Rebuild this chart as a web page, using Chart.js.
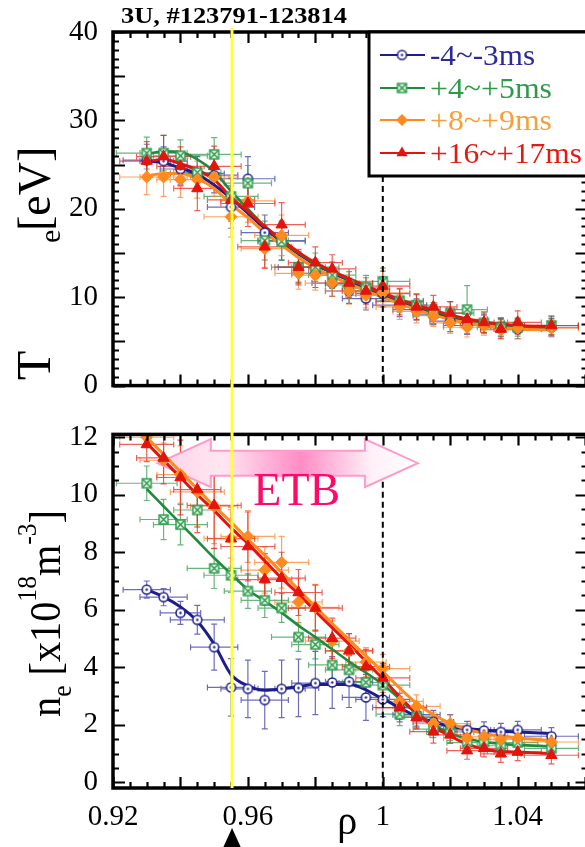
<!DOCTYPE html>
<html><head><meta charset="utf-8">
<script src="https://cdn.jsdelivr.net/npm/chart.js@4.4.1/dist/chart.umd.min.js"></script>
<style>
html,body{margin:0;padding:0;background:#fff;}
#wrap{position:relative;width:585px;height:847px;overflow:hidden;background:#fff;}
#wrap canvas{position:absolute;left:0;display:block;}
</style></head><body>
<div id="wrap">
<canvas id="cT" width="595" height="410" style="top:0px;width:595px;height:410px"></canvas>
<canvas id="cN" width="595" height="437" style="top:410px;width:595px;height:437px"></canvas>
</div>
<script>
// ---------------- data ----------------
const seriesLabels = ['-4~-3ms', '+4~+5ms', '+8~+9ms', '+16~+17ms'];
const rho = [0.93,0.935,0.94,0.945,0.95,0.955,0.96,0.965,0.97,0.975,0.98,0.985,0.99,0.995,1.0,1.005,1.01,1.015,1.02,1.025,1.03,1.035,1.04,1.05];

const teBlue   = [25.5,25.4,24.5,24.0,23.8,20.2,23.4,17.3,16.4,13.4,12.7,11.6,10.7,9.85,10.4,9.1,8.6,8.0,7.3,6.8,7.0,6.6,6.4,6.6];
const teGreen  = [26.3,26.3,26.0,24.1,26.15,21.4,22.9,16.4,16.3,13.4,13.4,12.5,11.4,11.07,11.8,9.6,9.1,8.2,8.2,8.6,7.1,6.6,6.6,6.8];
const teOrange = [23.6,23.6,23.3,23.3,23.6,19.1,20.9,15.5,17.0,12.7,12.5,11.6,10.7,10.2,10.5,8.9,8.4,7.9,7.1,6.6,6.8,6.3,6.5,6.5];
const teRed    = [25.4,25.9,24.8,22.3,24.8,21.0,20.6,15.7,18.2,13.4,13.9,13.2,11.6,10.7,11.25,9.5,8.9,8.9,8.2,7.5,7.15,6.4,7.15,6.8];

const neBlue   = [6.7,6.44,5.89,5.65,4.7,3.3,3.25,2.86,3.25,3.28,3.45,3.47,3.5,2.95,2.88,2.6,2.35,2.1,1.95,1.82,1.8,1.75,1.82,1.6];
const neGreen  = [10.4,9.14,8.96,9.47,7.44,7.2,6.65,6.33,6.06,5.05,4.79,4.08,3.91,3.47,3.38,2.37,2.3,1.85,1.75,1.38,1.4,1.27,1.38,1.18];
const neOrange = [12.0,11.2,10.7,10.1,9.6,8.48,8.55,7.38,7.65,6.27,6.08,4.91,4.57,4.18,3.95,2.81,2.64,2.04,2.04,1.54,1.6,1.49,1.54,1.4];
const neRed    = [11.75,11.28,10.6,10.18,9.63,8.47,8.2,7.05,7.1,6.6,6.06,5.01,4.57,4.02,3.63,2.59,2.26,1.76,1.65,1.1,1.18,0.99,1.05,0.94];

const rhoErrBlue   = [0.007,0.007,0.006,0.008,0.007,0.007,0.008,0.007,0.007,0.006,0.007,0.006,0.007,0.007,0.008,0.008,0.007,0.006,0.006,0.007,0.006,0.006,0.007,0.008];
const rhoErrGreen  = [0.009,0.007,0.008,0.007,0.008,0.008,0.007,0.007,0.007,0.008,0.007,0.007,0.007,0.007,0.008,0.007,0.006,0.006,0.007,0.006,0.006,0.007,0.006,0.008];
const rhoErrOrange = [0.008,0.007,0.007,0.008,0.007,0.008,0.008,0.007,0.008,0.007,0.007,0.008,0.007,0.006,0.008,0.007,0.007,0.006,0.006,0.007,0.007,0.006,0.007,0.008];
const rhoErrRed    = [0.008,0.008,0.007,0.007,0.008,0.007,0.008,0.008,0.007,0.007,0.008,0.007,0.007,0.007,0.008,0.007,0.006,0.007,0.006,0.006,0.007,0.006,0.007,0.008];

const teErrBlue   = [1.8,1.6,1.8,1.9,2.0,2.4,2.5,2.0,2.2,1.8,1.6,1.5,1.4,1.3,1.5,1.3,1.2,1.1,1.2,1.0,1.0,1.0,1.1,1.0];
const teErrGreen  = [1.8,2.0,1.8,2.0,1.9,2.2,2.0,2.2,2.1,1.7,1.6,1.5,1.5,1.4,1.5,1.3,1.3,1.2,1.3,2.7,1.1,1.1,1.0,1.0];
const teErrOrange = [2.0,2.2,2.0,2.1,2.2,2.3,2.4,2.2,2.3,1.8,1.7,1.5,1.5,1.4,1.6,1.4,1.3,1.2,1.2,1.1,1.1,1.0,1.2,1.0];
const teErrRed    = [2.2,2.4,2.2,2.5,2.3,2.4,2.6,2.4,2.5,2.0,1.8,1.6,1.6,1.5,1.7,1.5,1.4,1.3,1.3,1.2,1.2,1.1,1.3,1.1];

const neErrBlue   = [0.3,0.3,0.4,0.5,0.8,1.0,1.0,1.0,1.0,1.0,1.1,0.9,0.9,0.8,0.6,0.5,0.4,0.4,0.4,0.3,0.3,0.3,0.3,0.3];
const neErrGreen  = [0.6,0.7,0.7,0.6,0.7,0.6,0.6,0.6,0.5,0.5,0.5,0.5,0.5,0.4,0.4,0.4,0.4,0.3,0.3,0.3,0.3,0.3,0.3,0.3];
const neErrOrange = [0.3,0.6,1.0,1.2,1.3,1.0,0.9,0.8,0.9,0.8,0.8,0.7,0.6,0.5,0.5,0.5,0.4,0.4,0.3,0.3,0.3,0.3,0.3,0.3];
const neErrRed    = [0.6,0.9,1.3,1.5,1.5,1.1,1.2,0.9,0.9,0.8,0.8,0.7,0.6,0.6,0.5,0.4,0.4,0.4,0.3,0.3,0.3,0.3,0.3,0.3];

const fitRho = [0.93,0.935,0.94,0.945,0.95,0.955,0.96,0.965,0.97,0.975,0.98,0.99,1.0,1.01,1.02,1.03,1.04,1.05];
const teFitBlue   = [25.4,25.2,24.6,23.9,22.7,21.2,19.5,17.8,16.3,14.9,13.7,11.9,10.2,8.8,7.7,7.0,6.6,6.5];
const teFitGreen  = [26.2,26.5,26.4,25.6,24.2,22.0,20.0,18.0,16.4,15.0,13.8,12.0,10.4,9.0,7.9,7.1,6.7,6.6];
const teFitOrange = [23.7,24.0,24.0,23.4,22.3,20.5,19.0,17.3,15.9,14.5,13.3,11.5,10.0,8.6,7.5,6.8,6.4,6.3];
const teFitRed    = [25.3,25.6,25.1,24.4,23.3,21.3,19.7,18.0,16.5,15.1,13.9,12.1,10.5,9.1,8.0,7.2,6.8,6.7];
const neFitBlue   = [6.7,6.45,6.1,5.6,4.8,3.75,3.35,3.2,3.25,3.33,3.4,3.4,2.9,2.3,1.95,1.82,1.75,1.7];
const neFitGreen  = [10.2,9.6,9.0,8.4,7.8,7.25,6.7,6.3,5.9,5.45,5.05,4.2,3.4,2.4,1.7,1.4,1.3,1.25];
const neFitOrange = [12.0,11.4,10.8,10.2,9.6,9.05,8.45,7.9,7.3,6.7,6.1,4.95,3.85,2.75,2.05,1.7,1.55,1.45];
const neFitRed    = [11.8,11.2,10.6,10.0,9.45,8.85,8.3,7.7,7.1,6.55,5.95,4.8,3.6,2.4,1.6,1.15,1.05,1.0];

const xTickLabels  = [0.92, 0.96, 1, 1.04];
const teTickLabels = [0, 10, 20, 30, 40];
const neTickLabels = [0, 2, 4, 6, 8, 10, 12];

const titleText = '3U, #123791-123814';
const markRho = 0.9553;       // yellow line / triangle
const sepRho = 1.0;           // dashed separatrix
const etbRho = [0.9333, 1.0104];
const etbNe = 11.1;
const etbText = 'ETB';
const etbTextPos = [0.9745, 9.65];

// ---------------- style ----------------
const SERIF = "'Liberation Serif','Times New Roman',serif";
const styles = [
  {color:'#1d1d8c', text:'#2a2a9c', err:'rgba(45,45,160,0.7)'},
  {color:'#1f8b3b', text:'#2f9a4a', err:'rgba(40,150,70,0.7)'},
  {color:'#ff8a1e', text:'#f7a03a', err:'rgba(250,125,35,0.7)'},
  {color:'#e3140c', text:'#e01b12', err:'rgba(228,30,20,0.7)'}
];

function circDot(color){
  const c=document.createElement('canvas'); c.width=c.height=13; const g=c.getContext('2d');
  g.fillStyle='#fff'; g.strokeStyle=color; g.lineWidth=1.5;
  g.beginPath(); g.arc(6.5,6.5,4.5,0,Math.PI*2); g.fill(); g.stroke();
  g.fillStyle=color; g.beginPath(); g.arc(6.5,6.5,1.2,0,Math.PI*2); g.fill(); return c;
}
function boxX(color){
  const c=document.createElement('canvas'); c.width=c.height=13; const g=c.getContext('2d');
  g.fillStyle='#e6f4e8'; g.fillRect(2,2,9,9);
  g.strokeStyle=color; g.lineWidth=1.4; g.strokeRect(2,2,9,9);
  g.beginPath(); g.moveTo(2.5,2.5); g.lineTo(10.5,10.5); g.moveTo(10.5,2.5); g.lineTo(2.5,10.5); g.stroke(); return c;
}
const markerImgs = [circDot(styles[0].color), boxX('#2a9a4a'), null, null];
const markerStyle = [markerImgs[0], markerImgs[1], 'rectRot', 'triangle'];
const markerRadius = [5, 5, 6, 6.5];

function buildDatasets(ys, errs, fits){
  const pts = [], lines = [];
  for (let i=0;i<4;i++){
    pts.push({
      label: seriesLabels[i],
      data: rho.map((x,j)=>({x:x, y:ys[i][j]})),
      showLine:false, errX: [rhoErrBlue,rhoErrGreen,rhoErrOrange,rhoErrRed][i], errY: errs[i], errColor: styles[i].err,
      pointStyle: markerStyle[i], pointRadius: markerRadius[i],
      backgroundColor: styles[i].color, borderColor: styles[i].color, borderWidth: 1, sIndex:i
    });
    lines.push({
      label: seriesLabels[i]+' fit',
      data: fitRho.map((x,j)=>({x:x, y:fits[i][j]})),
      showLine:true, pointRadius:0, borderColor: styles[i].color, borderWidth: i===1?2.6:3,
      cubicInterpolationMode:'monotone', fill:false
    });
  }
  return [pts[3],pts[2],pts[1],pts[0],lines[3],lines[2],lines[1],lines[0]];
}

const errorBars = {
  id:'errorBars',
  beforeDatasetsDraw(chart){
    const {ctx, chartArea:a, scales:{x,y}} = chart;
    ctx.save(); ctx.beginPath(); ctx.rect(a.left,a.top,a.right-a.left,a.bottom-a.top); ctx.clip();
    const sets = chart.data.datasets.filter(d=>d.errX).sort((p,q)=>p.sIndex-q.sIndex);
    sets.forEach(ds=>{
      ctx.strokeStyle = ds.errColor; ctx.lineWidth = 1.2; ctx.beginPath();
      ds.data.forEach((p,j)=>{
        const px=x.getPixelForValue(p.x), py=y.getPixelForValue(p.y);
        const x1=x.getPixelForValue(p.x-ds.errX[j]), x2=x.getPixelForValue(p.x+ds.errX[j]);
        const y1=y.getPixelForValue(p.y-ds.errY[j]), y2=y.getPixelForValue(p.y+ds.errY[j]);
        ctx.moveTo(x1,py); ctx.lineTo(x2,py);
        ctx.moveTo(x1,py-3); ctx.lineTo(x1,py+3); ctx.moveTo(x2,py-3); ctx.lineTo(x2,py+3);
        ctx.moveTo(px,y1); ctx.lineTo(px,y2);
        ctx.moveTo(px-3,y1); ctx.lineTo(px+3,y1); ctx.moveTo(px-3,y2); ctx.lineTo(px+3,y2);
      });
      ctx.stroke();
    });
    ctx.restore();
  }
};

function frameTicks(chart, yMin, yMax, yMinor, yMajorEvery){
  const {ctx, chartArea:a, scales:{x,y}} = chart;
  ctx.save(); ctx.strokeStyle='#000'; ctx.lineWidth=2.2; ctx.beginPath();
  for (let k=0;;k++){
    const v = 0.92 + k*0.005; if (v > x.max+1e-9) break;
    const px = Math.round(x.getPixelForValue(v))+0.5; const L = (k%4===0)?11:6;
    ctx.moveTo(px,a.bottom); ctx.lineTo(px,a.bottom-L); ctx.moveTo(px,a.top); ctx.lineTo(px,a.top+L);
  }
  for (let k=0;;k++){
    const v = yMin + k*yMinor; if (v > yMax+1e-9) break;
    const py = Math.round(y.getPixelForValue(v))+0.5; const L = (k%yMajorEvery===0)?12:6;
    ctx.moveTo(a.left,py); ctx.lineTo(a.left+L,py); ctx.moveTo(a.right,py); ctx.lineTo(a.right-L,py);
  }
  ctx.stroke();
  ctx.lineWidth=3.5; ctx.strokeRect(a.left,a.top,a.right-a.left,a.bottom-a.top);
  ctx.restore();
}
function rotText(ctx, text, font, bx, by, sx, color){
  ctx.save(); ctx.translate(bx,by); ctx.rotate(-Math.PI/2); ctx.scale(sx||1,1);
  ctx.font=font; ctx.fillStyle=color||'#000'; ctx.textAlign='left'; ctx.textBaseline='alphabetic';
  ctx.fillText(text,0,0); ctx.restore();
}
function rotTokens(ctx, tokens, bx, yStart, yEnd){
  let total=0; tokens.forEach(t=>{ctx.font=t.font; t.w=ctx.measureText(t.text).width; total+=t.w;});
  const s=(yStart-yEnd)/total;
  ctx.save(); ctx.translate(bx,yStart); ctx.rotate(-Math.PI/2); ctx.scale(s,1);
  ctx.fillStyle='#000'; ctx.textAlign='left'; ctx.textBaseline='alphabetic';
  let u=0; tokens.forEach(t=>{ctx.font=t.font; ctx.fillText(t.text,u,t.dy||0); u+=t.w;});
  ctx.restore();
}
function fitText(ctx, text, font, x, y, width, color){
  ctx.save(); ctx.font=font; ctx.fillStyle=color||'#000'; ctx.textAlign='left'; ctx.textBaseline='alphabetic';
  const w=ctx.measureText(text).width; ctx.translate(x,y); ctx.scale(width/w,1); ctx.fillText(text,0,0); ctx.restore();
}
function vline(ctx, px, y0, y1, color, w, dash){
  ctx.save(); ctx.strokeStyle=color; ctx.lineWidth=w; if(dash) ctx.setLineDash(dash);
  ctx.beginPath(); ctx.moveTo(px,y0); ctx.lineTo(px,y1); ctx.stroke(); ctx.restore();
}
function drawMarker(ctx, i, x, y){
  ctx.save();
  if (markerImgs[i]){ const im=markerImgs[i]; ctx.drawImage(im, x-im.width/2, y-im.height/2); }
  else {
    ctx.fillStyle=styles[i].color; ctx.beginPath(); const r=markerRadius[i];
    if (markerStyle[i]==='rectRot'){ ctx.moveTo(x-r,y); ctx.lineTo(x,y-r); ctx.lineTo(x+r,y); ctx.lineTo(x,y+r); }
    else { ctx.moveTo(x,y-r); ctx.lineTo(x+r*0.866,y+r*0.5); ctx.lineTo(x-r*0.866,y+r*0.5); }
    ctx.closePath(); ctx.fill();
  }
  ctx.restore();
}

function scaleOpts(yMin, yMax, yTicks, showX, xH){
  return {
    x:{type:'linear', min:0.92, max:1.0607,
       afterBuildTicks:s=>{s.ticks=xTickLabels.map(v=>({value:v}));},
       ticks:{display:showX, font:{family:SERIF,size:29}, color:'#000', padding:4, maxRotation:0,
              callback:v=>String(+(+v).toFixed(2))},
       grid:{display:false}, border:{display:false},
       afterFit:s=>{s.height=xH;}},
    y:{type:'linear', min:yMin, max:yMax,
       afterBuildTicks:s=>{s.ticks=yTicks.map(v=>({value:v}));},
       ticks:{font:{family:SERIF,size:29}, color:'#000', padding:7, callback:v=>String(v)},
       grid:{display:false}, border:{display:false},
       afterFit:s=>{s.width=113;}}
  };
}

// ---------------- top chart (Te) ----------------
const topDecor = {
  id:'topDecor',
  afterDraw(chart){
    const {ctx, chartArea:a, scales:{x}} = chart;
    frameTicks(chart, 0, 40, 1, 5);
    vline(ctx, x.getPixelForValue(sepRho), 176, a.bottom, '#000', 2, [6,4]);
    // legend box
    ctx.save();
    ctx.fillStyle='#fff'; ctx.fillRect(369,32,240,144);
    ctx.strokeStyle='#000'; ctx.lineWidth=3; ctx.strokeRect(369,32,240,144);
    const ys=[55,88,120,153];
    const widths=[105,122,122,152];
    for (let i=0;i<4;i++){
      ctx.strokeStyle=styles[i].color; ctx.lineWidth=2.2; ctx.beginPath(); ctx.moveTo(380,ys[i]); ctx.lineTo(425,ys[i]); ctx.stroke();
      drawMarker(ctx,i,402,ys[i]);
      fitText(ctx, seriesLabels[i], '29px '+SERIF, 430, ys[i]+10, widths[i], styles[i].text);
    }
    ctx.restore();
    // title
    fitText(ctx, titleText, 'bold 23px '+SERIF, 121, 23, 226, '#000');
    // y title
    rotText(ctx,'T','48px '+SERIF,50,380);
    rotText(ctx,'e','30px '+SERIF,60,243);
    rotText(ctx,'[eV]','46px '+SERIF,50,231);
    vline(ctx, x.getPixelForValue(markRho), 28, chart.height, '#ffff40', 3);
  }
};
new Chart(document.getElementById('cT'), {
  type:'line',
  data:{datasets: buildDatasets([teBlue,teGreen,teOrange,teRed],[teErrBlue,teErrGreen,teErrOrange,teErrRed],[teFitBlue,teFitGreen,teFitOrange,teFitRed])},
  options:{responsive:false, animation:false, devicePixelRatio:1,
    layout:{padding:{top:32,right:7,left:0,bottom:0}},
    plugins:{legend:{display:false}, tooltip:{enabled:false}},
    scales: scaleOpts(0,40,teTickLabels,false,5)},
  plugins:[errorBars, topDecor]
});

// ---------------- bottom chart (ne) ----------------
const arrowPlugin = {
  id:'etbArrow',
  beforeDatasetsDraw(chart){
    const {ctx, scales:{x,y}} = chart;
    const xl=x.getPixelForValue(etbRho[0]), xr=x.getPixelForValue(etbRho[1]), yc=y.getPixelForValue(etbNe);
    const hl=53, hh=24, sh=12.5;
    ctx.save();
    const g=ctx.createLinearGradient(xl,0,xr,0);
    g.addColorStop(0,'#ffd2e8'); g.addColorStop(0.25,'#ffe6f2'); g.addColorStop(0.55,'#ff8cc6'); g.addColorStop(0.82,'#fff0f7'); g.addColorStop(1,'#ffffff');
    ctx.fillStyle=g; ctx.strokeStyle='#ff9acb'; ctx.lineWidth=2;
    ctx.beginPath();
    ctx.moveTo(xl,yc); ctx.lineTo(xl+hl,yc-hh); ctx.lineTo(xl+hl,yc-sh); ctx.lineTo(xr-hl,yc-sh); ctx.lineTo(xr-hl,yc-hh);
    ctx.lineTo(xr,yc); ctx.lineTo(xr-hl,yc+hh); ctx.lineTo(xr-hl,yc+sh); ctx.lineTo(xl+hl,yc+sh); ctx.lineTo(xl+hl,yc+hh);
    ctx.closePath(); ctx.fill(); ctx.stroke();
    ctx.restore();
  }
};
const botDecor = {
  id:'botDecor',
  afterDraw(chart){
    const {ctx, chartArea:a, scales:{x,y}} = chart;
    frameTicks(chart, 0, 12.1, 0.5, 4);
    vline(ctx, x.getPixelForValue(sepRho), y.getPixelForValue(10.45), a.bottom, '#000', 2, [6,4]);
    ctx.save(); ctx.fillStyle='#ff0a6a'; ctx.font='46px '+SERIF; ctx.textAlign='center'; ctx.textBaseline='alphabetic';
    ctx.fillText(etbText, x.getPixelForValue(etbTextPos[0]), y.getPixelForValue(etbTextPos[1])); ctx.restore();
    rotTokens(ctx,[
      {text:'n',font:'44px '+SERIF},
      {text:'e',font:'28px '+SERIF,dy:11},
      {text:' [x10',font:'44px '+SERIF},
      {text:'18',font:'28px '+SERIF,dy:-24},
      {text:'m',font:'44px '+SERIF},
      {text:'-3',font:'28px '+SERIF,dy:-24},
      {text:']',font:'44px '+SERIF}
    ], 60, 717-410, 510-410);
    ctx.save(); ctx.fillStyle='#000'; ctx.font='40px '+SERIF; ctx.textAlign='center'; ctx.textBaseline='alphabetic';
    ctx.fillText('\u03C1', (a.left+a.right)/2-3, 424); ctx.restore();
    const mx=x.getPixelForValue(markRho);
    ctx.save(); ctx.fillStyle='#000'; ctx.beginPath(); ctx.moveTo(mx,418); ctx.lineTo(mx-10,440); ctx.lineTo(mx+10,440); ctx.closePath(); ctx.fill(); ctx.restore();
    vline(ctx, mx, 0, a.bottom, '#ffff40', 3);
  }
};
new Chart(document.getElementById('cN'), {
  type:'line',
  data:{datasets: buildDatasets([neBlue,neGreen,neOrange,neRed],[neErrBlue,neErrGreen,neErrOrange,neErrRed],[neFitBlue,neFitGreen,neFitOrange,neFitRed])},
  options:{responsive:false, animation:false, devicePixelRatio:1,
    layout:{padding:{top:6,right:7,left:0,bottom:0}},
    plugins:{legend:{display:false}, tooltip:{enabled:false}},
    scales: scaleOpts(-0.2,12.1,neTickLabels,true,59)},
  plugins:[errorBars, arrowPlugin, botDecor]
});
</script>
</body></html>
